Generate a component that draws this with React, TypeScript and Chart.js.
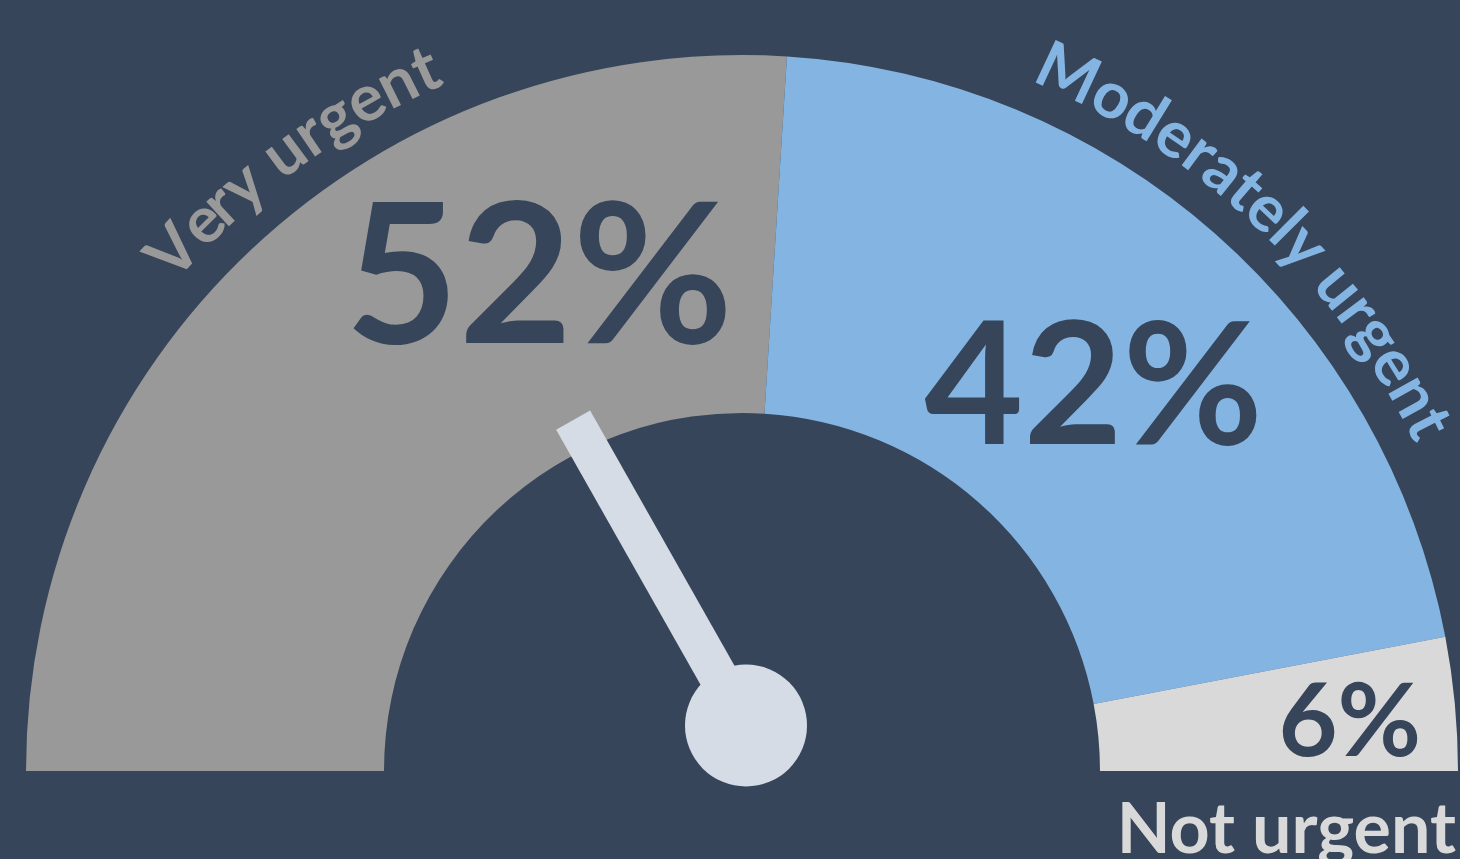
import React, { useEffect, useRef } from "react";
import { Chart, registerables } from "chart.js";

Chart.register(...registerables);

// ---------- data ----------
const categories = ["Very urgent", "Moderately urgent", "Not urgent"];
const shares = [52, 42, 6];
const percentLabels = ["52%", "42%", "6%"];
const needleValue = [33.6]; // position of the pointer, in percent of the gauge

// ---------- styles ----------
const BG = "#36455A";
const segmentColors = ["#999999", "#84B5E2", "#D9D9D9"];
const categoryColors = ["#999999", "#84B5E2", "#D9D9D9"];
const NEEDLE = "#D6DCE5";
const FONT = "Lato, 'Open Sans', sans-serif";

// label placement (relative to the arc geometry)
const percentStyle = [
  { shift: 0.117, radius: 0.752, size: 196 },
  { shift: 0.004, radius: 0.732, size: 171 },
  { shift: 0.003, radius: 0.852, size: 102 },
];
const categoryStyle = [
  { mode: "arc", shift: 0.038, radius: 1.045, size: 65 },
  { mode: "arc", shift: 0.011, radius: 1.045, size: 65 },
  { mode: "flat", dy: 82, size: 70 },
];
const needleStyle = { pivotDx: 4, pivotDy: -45.5, length: 0.49, width: 39, hub: 61 };

function drawArcText(ctx: CanvasRenderingContext2D, text: string, cx: number, cy: number, radius: number, centerAngle: number) {
  const total = ctx.measureText(text).width;
  const start = centerAngle - total / 2 / radius;
  for (let i = 0; i < text.length; i++) {
    const before = ctx.measureText(text.slice(0, i)).width;
    const w = ctx.measureText(text[i]).width;
    const a = start + (before + w / 2) / radius;
    ctx.save();
    ctx.translate(cx + radius * Math.cos(a), cy + radius * Math.sin(a));
    ctx.rotate(a + Math.PI / 2);
    ctx.textAlign = "center";
    ctx.textBaseline = "alphabetic";
    ctx.fillText(text[i], 0, 0);
    ctx.restore();
  }
}

const gaugePlugin = {
  id: "gaugeDecor",
  beforeDraw(chart: any) {
    const ctx = chart.ctx;
    ctx.save();
    ctx.fillStyle = BG;
    ctx.fillRect(0, 0, chart.width, chart.height);
    ctx.restore();
  },
  afterDraw(chart: any) {
    const ctx: CanvasRenderingContext2D = chart.ctx;
    const meta = chart.getDatasetMeta(0);
    const arcs = meta.data as any[];
    if (!arcs.length) return;
    const cx = arcs[0].x;
    const cy = arcs[0].y;
    const R = arcs[0].outerRadius;
    const a0 = -Math.PI;
    const span = Math.PI;

    ctx.save();
    // percent labels
    arcs.forEach((arc, i) => {
      const st = percentStyle[i];
      const mid = (arc.startAngle + arc.endAngle) / 2 + st.shift * span;
      const r = st.radius * R;
      const x = cx + r * Math.cos(mid);
      const y = cy + r * Math.sin(mid);
      ctx.font = `bold ${st.size}px ${FONT}`;
      ctx.fillStyle = BG;
      ctx.textAlign = "center";
      ctx.textBaseline = "alphabetic";
      const m = ctx.measureText(percentLabels[i]);
      ctx.fillText(percentLabels[i], x, y + (m.actualBoundingBoxAscent - m.actualBoundingBoxDescent) / 2);
    });

    // category labels
    arcs.forEach((arc, i) => {
      const st: any = categoryStyle[i];
      ctx.font = `bold ${st.size}px ${FONT}`;
      ctx.fillStyle = categoryColors[i];
      if (st.mode === "arc") {
        const mid = (arc.startAngle + arc.endAngle) / 2 + st.shift * span;
        drawArcText(ctx, categories[i], cx, cy, st.radius * R, mid);
      } else {
        ctx.textAlign = "right";
        ctx.textBaseline = "alphabetic";
        ctx.fillText(categories[i], cx + R - 2, cy + st.dy);
      }
    });

    // needle
    const px = cx + needleStyle.pivotDx;
    const py = cy + needleStyle.pivotDy;
    const ang = a0 + (needleValue[0] / 100) * span;
    const len = needleStyle.length * R;
    ctx.strokeStyle = NEEDLE;
    ctx.lineWidth = needleStyle.width;
    ctx.lineCap = "butt";
    ctx.beginPath();
    ctx.moveTo(px, py);
    ctx.lineTo(px + len * Math.cos(ang), py + len * Math.sin(ang));
    ctx.stroke();
    ctx.fillStyle = NEEDLE;
    ctx.beginPath();
    ctx.arc(px, py, needleStyle.hub, 0, Math.PI * 2);
    ctx.fill();
    ctx.restore();
  },
};

export default function App() {
  const ref = useRef<HTMLCanvasElement | null>(null);
  useEffect(() => {
    document.body.style.margin = "0";
    document.body.style.background = BG;
    if (!ref.current) return;
    const chart = new Chart(ref.current, {
      type: "doughnut",
      data: {
        labels: categories,
        datasets: [
          {
            data: shares,
            backgroundColor: segmentColors,
            borderWidth: 0,
          },
        ],
      },
      options: {
        animation: false,
        responsive: true,
        maintainAspectRatio: false,
        rotation: -90,
        circumference: 180,
        cutout: "50%",
        layout: { padding: { left: 26, right: 2, top: 55, bottom: 88 } },
        plugins: { legend: { display: false }, tooltip: { enabled: false }, title: { display: false } },
        events: [],
      },
      plugins: [gaugePlugin],
    });
    (document as any).fonts?.ready?.then(() => chart.draw());
    return () => chart.destroy();
  }, []);
  return (
    <div style={{ position: "absolute", left: 0, top: 0, width: 1460, height: 859, background: BG }}>
      <canvas ref={ref} />
    </div>
  );
}
